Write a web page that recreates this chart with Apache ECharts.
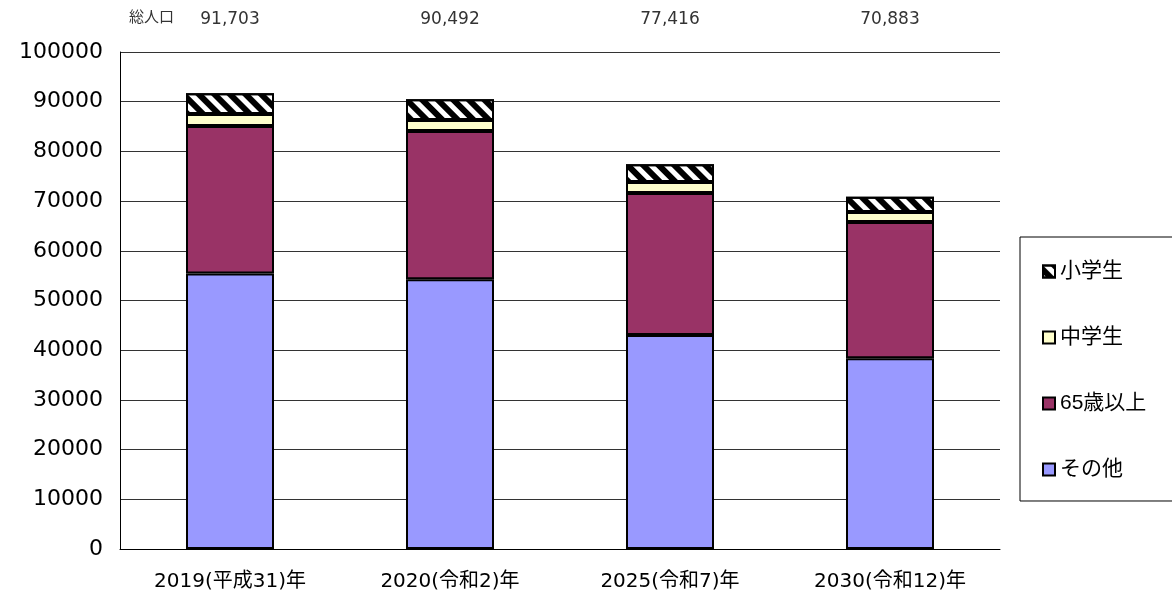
<!DOCTYPE html>
<html>
<head>
<meta charset="utf-8">
<script src="https://cdn.jsdelivr.net/npm/echarts@6/dist/echarts.min.js"></script>
<style>html,body{margin:0;padding:0;background:#fff}#c{width:1172px;height:601px}</style>
</head>
<body>
<div id="c"></div>
<script>
const categories = ['2019(平成31)年', '2020(令和2)年', '2025(令和7)年', '2030(令和12)年'];
const totals = [91703, 90492, 77416, 70883];
const other = [55430, 54290, 43070, 38390];
const elderly = [29700, 29810, 28560, 27420];
const junior = [2400, 2220, 2210, 2000];
const elementary = totals.map((t, i) => t - other[i] - elderly[i] - junior[i]);
const yTicks = [0, 10000, 20000, 30000, 40000, 50000, 60000, 70000, 80000, 90000, 100000];

const FONT = '"DejaVu Sans", "Noto Sans CJK JP", sans-serif';
const FONT2 = '"Liberation Sans", "Noto Sans CJK JP", sans-serif';
const chart = echarts.init(document.getElementById('c'));
const border = { borderColor: '#000', borderWidth: 2 };
chart.setOption({
  animation: false,
  textStyle: { fontFamily: FONT },
  grid: { left: 120, right: 172, top: 52, bottom: 52 },
  legend: {
    orient: 'vertical',
    left: 1020, top: 237,
    padding: [24, 200, 21, 22],
    itemGap: 45,
    itemWidth: 12, itemHeight: 12,
    icon: 'rect',
    borderColor: '#000', borderWidth: 1,
    textStyle: { fontSize: 21, color: '#000', fontFamily: FONT2 },
    data: ['小学生', '中学生', '65歳以上', 'その他']
  },
  xAxis: [{
    type: 'category', data: categories,
    axisLine: { lineStyle: { color: '#000', width: 1 } },
    axisTick: { inside: true, length: 6, lineStyle: { color: '#666' } },
    axisLabel: { fontSize: 20, color: '#000', margin: 23, fontFamily: FONT }
  }, {
    type: 'category', data: totals.map(v => v.toLocaleString('en-US')),
    position: 'top',
    axisLine: { show: false }, axisTick: { show: false },
    axisLabel: { fontSize: 17, color: '#333', margin: 24, fontFamily: FONT }
  }],
  yAxis: {
    type: 'value', min: 0, max: 100000, interval: 10000,
    axisLine: { show: true, lineStyle: { color: '#000' } },
    axisTick: { show: false },
    splitLine: { lineStyle: { color: '#333', width: 1 } },
    axisLabel: { fontSize: 22, color: '#000', margin: 17, fontFamily: FONT,
      formatter: v => yTicks.includes(v) ? String(v) : '' }
  },
  graphic: [{
    type: 'text', left: 129, top: 10,
    style: { text: '総人口', fontSize: 15, fill: '#333', fontFamily: FONT2 }
  }],
  series: [
    { name: 'その他', type: 'bar', stack: 't', data: other, barWidth: '40%',
      itemStyle: Object.assign({ color: '#9999ff' }, border) },
    { name: '65歳以上', type: 'bar', stack: 't', data: elderly,
      itemStyle: Object.assign({ color: '#993366' }, border) },
    { name: '中学生', type: 'bar', stack: 't', data: junior,
      itemStyle: Object.assign({ color: '#ffffcc' }, border) },
    { name: '小学生', type: 'bar', stack: 't', data: elementary,
      itemStyle: Object.assign({ color: '#ffffff',
        decal: { symbol: 'rect', dashArrayX: [1, 0], dashArrayY: [6, 5], rotation: Math.PI / 4, color: '#000', symbolSize: 1 } }, border) }
  ]
});
</script>
</body>
</html>
